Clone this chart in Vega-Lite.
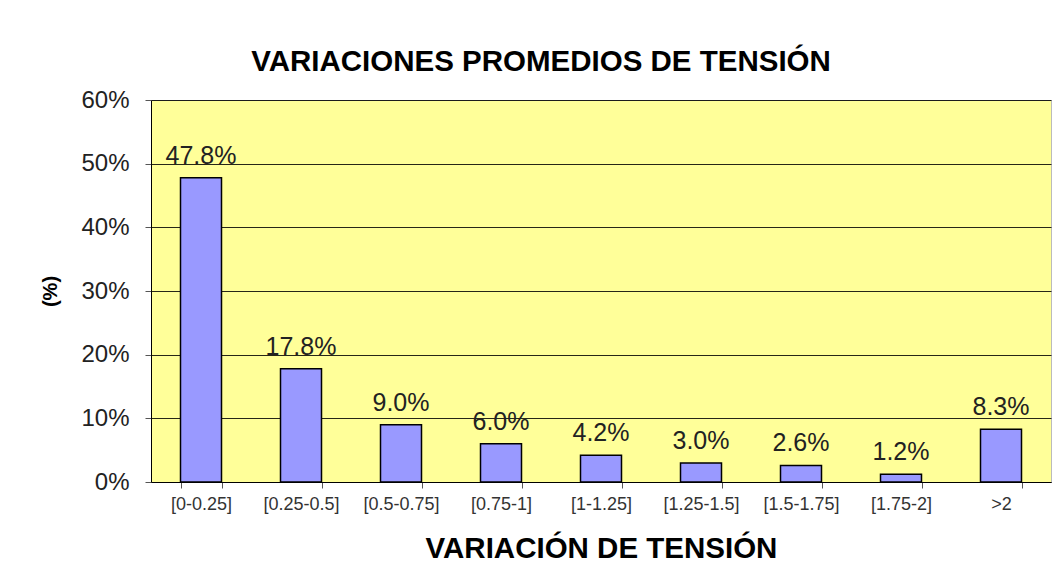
{
  "$schema": "https://vega.github.io/schema/vega-lite/v6.json",
  "width": 900,
  "height": 382,
  "autosize": {"type": "none"},
  "padding": {"left": 151, "top": 100, "right": 3, "bottom": 96},
  "background": "white",
  "title": {
    "text": "VARIACIONES PROMEDIOS DE TENSIÓN",
    "font": "Liberation Sans",
    "fontSize": 29.5,
    "fontWeight": "bold",
    "color": "black",
    "anchor": "middle",
    "dx": -60,
    "offset": 11,
    "limit": 1000
  },
  "data": {
    "values": [
      {"rango": "[0-0.25]", "pct": 0.478},
      {"rango": "[0.25-0.5]", "pct": 0.178},
      {"rango": "[0.5-0.75]", "pct": 0.090},
      {"rango": "[0.75-1]", "pct": 0.060},
      {"rango": "[1-1.25]", "pct": 0.042},
      {"rango": "[1.25-1.5]", "pct": 0.030},
      {"rango": "[1.5-1.75]", "pct": 0.026},
      {"rango": "[1.75-2]", "pct": 0.012},
      {"rango": ">2", "pct": 0.083}
    ]
  },
  "encoding": {
    "x": {
      "field": "rango",
      "type": "ordinal",
      "sort": null,
      "scale": {"paddingInner": 0.59, "paddingOuter": 0.295},
      "axis": {
        "title": "VARIACIÓN DE TENSIÓN",
        "titleFont": "Liberation Sans",
        "titleFontSize": 29.5,
        "titleFontWeight": "bold",
        "titleColor": "black",
        "titlePadding": 21,
        "labelAngle": 0,
        "labelFont": "Liberation Sans",
        "labelFontSize": 18,
        "labelColor": "#333333",
        "labelPadding": 7,
        "tickBand": "extent",
        "tickSize": 6,
        "tickColor": "#555555",
        "domainColor": "black",
        "grid": false
      }
    },
    "y": {
      "field": "pct",
      "type": "quantitative",
      "scale": {"domain": [0, 0.6], "nice": false},
      "axis": {
        "title": "(%)",
        "titleFont": "Liberation Sans",
        "titleFontSize": 20,
        "titleFontWeight": "bold",
        "titleColor": "black",
        "titlePadding": 20,
        "values": [0, 0.1, 0.2, 0.3, 0.4, 0.5, 0.6],
        "format": ".0%",
        "labelFont": "Liberation Sans",
        "labelFontSize": 24,
        "labelColor": "#222222",
        "labelPadding": 16,
        "tickSize": 6,
        "tickColor": "#555555",
        "domainColor": "black",
        "grid": true,
        "gridColor": "black",
        "gridOpacity": 0.85,
        "gridWidth": 1
      }
    }
  },
  "layer": [
    {
      "mark": {"type": "bar", "fill": "#9999FF", "stroke": "black", "strokeWidth": 1.5}
    },
    {
      "mark": {"type": "text", "baseline": "alphabetic", "dy": -14, "font": "Liberation Sans", "fontSize": 25, "color": "#222222"},
      "encoding": {
        "text": {"field": "pct", "type": "quantitative", "format": ".1%"}
      }
    }
  ],
  "config": {
    "view": {"fill": "#FFFF99", "stroke": "#bbbbbb"}
  }
}
